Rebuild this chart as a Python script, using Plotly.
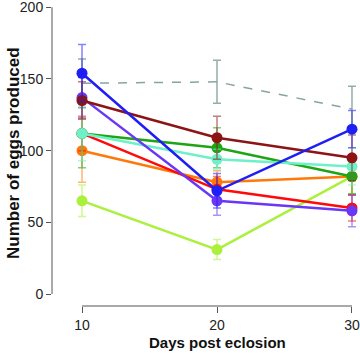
import plotly.graph_objects as go

days = [10, 20, 30]

control = [147, 148, 129]
control_err = [17, 15, 16]
light_green = [65, 31, 82]
light_green_err = [11, 7, 12]
orange = [100, 78, 82]
orange_err = [22, 8, 13]
red = [112, 73, 60]
red_err = [12, 9, 9]
green = [112, 102, 82]
green_err = [24, 14, 12]
teal = [112, 94, 89]
teal_err = [19, 7, 13]
purple = [137, 65, 58]
purple_err = [14, 10, 11]
dark_red = [135, 109, 95]
dark_red_err = [13, 15, 16]
blue = [154, 72, 115]
blue_err = [20, 12, 13]

y_ticks = [0, 50, 100, 150, 200]
x_ticks = [10, 20, 30]

colors = {
    "light green": (170, 240, 60),
    "orange": (255, 120, 10),
    "red": (255, 10, 10),
    "green": (30, 165, 20),
    "teal": (110, 240, 200),
    "purple": (105, 55, 245),
    "dark red": (140, 20, 20),
    "blue": (30, 30, 245),
}

fig = go.Figure()

c = (135, 165, 160)
fig.add_trace(go.Scatter(
    x=days, y=control, mode="lines",
    line=dict(color="rgb(%d,%d,%d)" % c, width=1.5, dash="dash"),
    error_y=dict(type="data", array=control_err, color="rgba(%d,%d,%d,0.9)" % c, thickness=1.5, width=4),
    showlegend=False, cliponaxis=False,
))

data = [
    ("light green", light_green, light_green_err),
    ("orange", orange, orange_err),
    ("red", red, red_err),
    ("green", green, green_err),
    ("teal", teal, teal_err),
    ("purple", purple, purple_err),
    ("dark red", dark_red, dark_red_err),
    ("blue", blue, blue_err),
]

for name, vals, errs in data:
    r, g, b = colors[name]
    fig.add_trace(go.Scatter(
        x=days, y=vals, mode="lines+markers",
        line=dict(color="rgb(%d,%d,%d)" % (r, g, b), width=2.5),
        marker=dict(size=11, color="rgb(%d,%d,%d)" % (r, g, b), line=dict(width=0)),
        error_y=dict(type="data", array=errs, color="rgba(%d,%d,%d,0.55)" % (r, g, b), thickness=1.5, width=4),
        showlegend=False, cliponaxis=False,
    ))

axis_color = "#555555"
# detached axis lines (R style)
fig.add_shape(type="line", xref="x", yref="paper", x0=min(x_ticks), x1=max(x_ticks), y0=0, y1=0,
              line=dict(color=axis_color, width=1))
fig.add_shape(type="line", xref="paper", yref="y", x0=0, x1=0, y0=min(y_ticks), y1=max(y_ticks),
              line=dict(color=axis_color, width=1))

fig.update_xaxes(
    range=[7.778, 30.593], showgrid=False, zeroline=False, showline=False,
    tickmode="array", tickvals=x_ticks, ticktext=[str(t) for t in x_ticks],
    ticks="outside", ticklen=6, tickcolor=axis_color, tickwidth=1,
    ticklabeloverflow="allow",
    tickfont=dict(family="Liberation Sans, Arial", size=14, color="#222222"),
)
fig.update_yaxes(
    range=[-8.37, 205.1], showgrid=False, zeroline=False, showline=False,
    tickmode="array", tickvals=y_ticks, ticktext=[str(t) for t in y_ticks],
    ticks="outside", ticklen=5, tickcolor=axis_color, tickwidth=1,
    ticklabeloverflow="allow",
    tickfont=dict(family="Liberation Sans, Arial", size=14, color="#222222"),
)

fig.add_annotation(text="<b>Days post eclosion</b>", xref="paper", yref="paper",
                   x=(217 - 52) / 308, y=-(342 - 306) / 306, xanchor="center", yanchor="middle",
                   showarrow=False, font=dict(family="Liberation Sans, Arial", size=15, color="#111111"))
fig.add_annotation(text="<b>Number of eggs produced</b>", xref="paper", yref="paper",
                   x=(13 - 52) / 308, y=(306 - 153) / 306, xanchor="center", yanchor="middle",
                   textangle=-90, showarrow=False,
                   font=dict(family="Liberation Sans, Arial", size=17, color="#111111"))

fig.update_layout(
    width=360, height=353,
    margin=dict(l=52, r=0, t=0, b=47),
    paper_bgcolor="white", plot_bgcolor="white",
    showlegend=False,
)

fig.write_html("out.html")
